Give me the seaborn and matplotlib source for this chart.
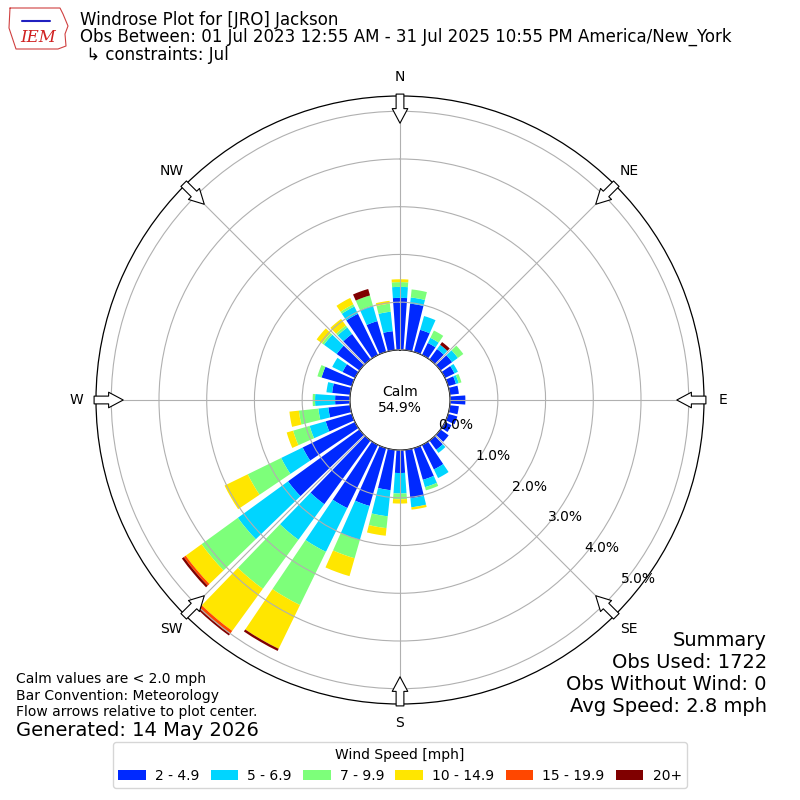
import numpy as np
import matplotlib
matplotlib.use("Agg")
import matplotlib.pyplot as plt
import seaborn as sns

# wind direction bins (deg) and frequency (%) per speed class
directions = np.arange(0, 360, 10)
speed_labels = ["2 - 4.9", "5 - 6.9", "7 - 9.9", "10 - 14.9", "15 - 19.9", "20+"]

spd_2_5 = [1.09, 0.98, 0.48, 0.28, 0.27, 0.30, 0.22, 0.17, 0.19, 0.32, 0.19, 0.20,
           0.15, 0.21, 0.24, 0.57, 0.69, 1.02, 0.48, 0.85, 1.26, 1.47, 1.65, 1.85,
           1.22, 0.57, 0.46, 0.31, 0.38, 0.66, 0.29, 0.59, 0.66, 0.96, 0.67, 0.40]
spd_5_7 = [0.23, 0.13, 0.30, 0.12, 0.11, 0.15, 0.08, 0.06, 0.00, 0.00, 0.00, 0.00,
           0.00, 0.00, 0.08, 0.20, 0.16, 0.19, 0.43, 0.55, 0.74, 1.02, 0.92, 1.30,
           0.50, 0.35, 0.21, 0.42, 0.12, 0.00, 0.24, 0.33, 0.17, 0.17, 0.34, 0.41]
spd_7_10 = [0.10, 0.17, 0.00, 0.17, 0.00, 0.14, 0.00, 0.06, 0.00, 0.00, 0.00, 0.00,
            0.00, 0.00, 0.00, 0.00, 0.07, 0.00, 0.12, 0.25, 0.40, 1.24, 1.27, 0.94,
            0.78, 0.36, 0.41, 0.05, 0.00, 0.09, 0.00, 0.05, 0.05, 0.05, 0.22, 0.17]
spd_10_15 = [0.06, 0.00, 0.00, 0.00, 0.00, 0.00, 0.00, 0.00, 0.00, 0.00, 0.00, 0.00,
             0.00, 0.00, 0.00, 0.00, 0.00, 0.05, 0.09, 0.16, 0.39, 1.02, 1.09, 0.41,
             0.54, 0.14, 0.20, 0.00, 0.00, 0.00, 0.00, 0.14, 0.17, 0.15, 0.00, 0.06]
spd_15_20 = [0.00, 0.00, 0.00, 0.00, 0.00, 0.00, 0.00, 0.00, 0.00, 0.00, 0.00, 0.00,
             0.00, 0.00, 0.00, 0.00, 0.00, 0.00, 0.00, 0.00, 0.00, 0.00, 0.08, 0.05,
             0.00, 0.00, 0.00, 0.00, 0.00, 0.00, 0.00, 0.00, 0.00, 0.00, 0.00, 0.00]
spd_20p = [0.00, 0.00, 0.00, 0.00, 0.07, 0.00, 0.00, 0.00, 0.00, 0.00, 0.00, 0.00,
           0.00, 0.00, 0.00, 0.00, 0.00, 0.00, 0.00, 0.00, 0.00, 0.05, 0.04, 0.05,
           0.00, 0.00, 0.00, 0.00, 0.00, 0.00, 0.00, 0.00, 0.00, 0.00, 0.14, 0.00]

calm_pct = 54.9
ring_ticks = [0, 1, 2, 3, 4, 5]
compass = ["N", "NE", "E", "SE", "S", "SW", "W", "NW"]

sns.set_style("white", {"xtick.color": "black", "ytick.color": "black",
                        "text.color": "black", "axes.labelcolor": "black"})
plt.rcParams["font.family"] = ["DejaVu Sans"]

# jet colours, same as IEM
colors = sns.color_palette(list(plt.get_cmap("jet")(np.arange(1, 7) / 6.0)))

fig = plt.figure(figsize=(8, 8), dpi=100)
ax = fig.add_axes([0.12, 0.12, 0.76, 0.76], projection="polar")
ax.set_theta_zero_location("N")
ax.set_theta_direction(-1)

theta = np.deg2rad(directions)
bottom = np.zeros(len(directions))
series = [spd_2_5, spd_5_7, spd_7_10, spd_10_15, spd_15_20, spd_20p]
for vals, col, lab in zip(series, colors, speed_labels):
    vals = np.asarray(vals)
    ax.bar(theta, vals, width=np.deg2rad(8), bottom=bottom, color=col,
           edgecolor="none", label=lab, zorder=1)
    bottom += vals

ax.set_ylim(0, 5.32)
ax.set_rorigin(-1.05)
ax.set_thetagrids(np.arange(0, 360, 45), compass, fontsize=10)
ax.set_rgrids(ring_ticks, labels=[f"{t:.1f}%" for t in ring_ticks], angle=130, fontsize=10)
ax.tick_params(axis="x", pad=3.5, labelcolor="black")
ax.tick_params(axis="y", labelcolor="black")
ax.grid(True, color="#b0b0b0", linewidth=0.8)
ax.set_axisbelow(False)
for sp in ax.spines.values():
    sp.set_color("black")
    sp.set_linewidth(0.9)

# flow arrows on the rim
for a in np.arange(0, 360, 45):
    ax.annotate("", xy=(np.deg2rad(a), 4.75), xytext=(np.deg2rad(a), 5.36),
                arrowprops=dict(arrowstyle="simple,head_length=0.75,head_width=0.8,tail_width=0.4",
                                fc="white", ec="black", lw=0.8, shrinkA=0, shrinkB=0,
                                mutation_scale=14),
                annotation_clip=False, zorder=5)

ax.text(0.5, 0.5, f"Calm\n{calm_pct}%", transform=ax.transAxes, ha="center",
        va="center", fontsize=10, zorder=6)

# header
fig.text(80 / 800, 1 - 20 / 800, "Windrose Plot for [JRO] Jackson", fontsize=12, va="center")
fig.text(80 / 800, 1 - 37 / 800,
         "Obs Between: 01 Jul 2023 12:55 AM - 31 Jul 2025 10:55 PM America/New_York",
         fontsize=12, va="center")
fig.text(81 / 800, 1 - 55 / 800, " \u21b3 constraints: Jul", fontsize=12, va="center")

# logo stand-in
iowa_x = np.array([10, 60, 63, 68, 65, 66, 58, 16, 13, 9, 10]) / 800
iowa_y = 1 - np.array([8, 8, 14, 26, 34, 46, 49, 49, 40, 28, 8]) / 800
fig.add_artist(plt.Line2D(iowa_x, iowa_y, color="#d04040", lw=0.8, transform=fig.transFigure))
fig.add_artist(plt.Line2D(np.array([22, 50]) / 800, 1 - np.array([21, 21]) / 800,
                          color="#2020c0", lw=1.5, transform=fig.transFigure))
fig.text(38 / 800, 1 - 38 / 800, "IEM", color="#d02020", fontsize=12, family="serif",
         style="italic", ha="center", va="center")

# notes
fig.text(16 / 800, 1 - 679 / 800, "Calm values are < 2.0 mph", fontsize=10, va="center")
fig.text(16 / 800, 1 - 696 / 800, "Bar Convention: Meteorology", fontsize=10, va="center")
fig.text(16 / 800, 1 - 712 / 800, "Flow arrows relative to plot center.", fontsize=10, va="center")
fig.text(16 / 800, 1 - 730 / 800, "Generated: 14 May 2026", fontsize=14, va="center")

summary = ["Summary", "Obs Used: 1722", "Obs Without Wind: 0", "Avg Speed: 2.8 mph"]
for i, line in enumerate(summary):
    fig.text(767 / 800, 1 - (640 + 22 * i) / 800, line, fontsize=14, ha="right", va="center")

handles, labels = ax.get_legend_handles_labels()
fig.legend(handles, labels, loc="lower center", bbox_to_anchor=(0.5, 0.006), ncol=6,
           title="Wind Speed [mph]", fontsize=10, title_fontsize=10, handlelength=2.0,
           handletextpad=0.65, columnspacing=0.8, frameon=True)

fig.savefig("out.png", dpi=100)
